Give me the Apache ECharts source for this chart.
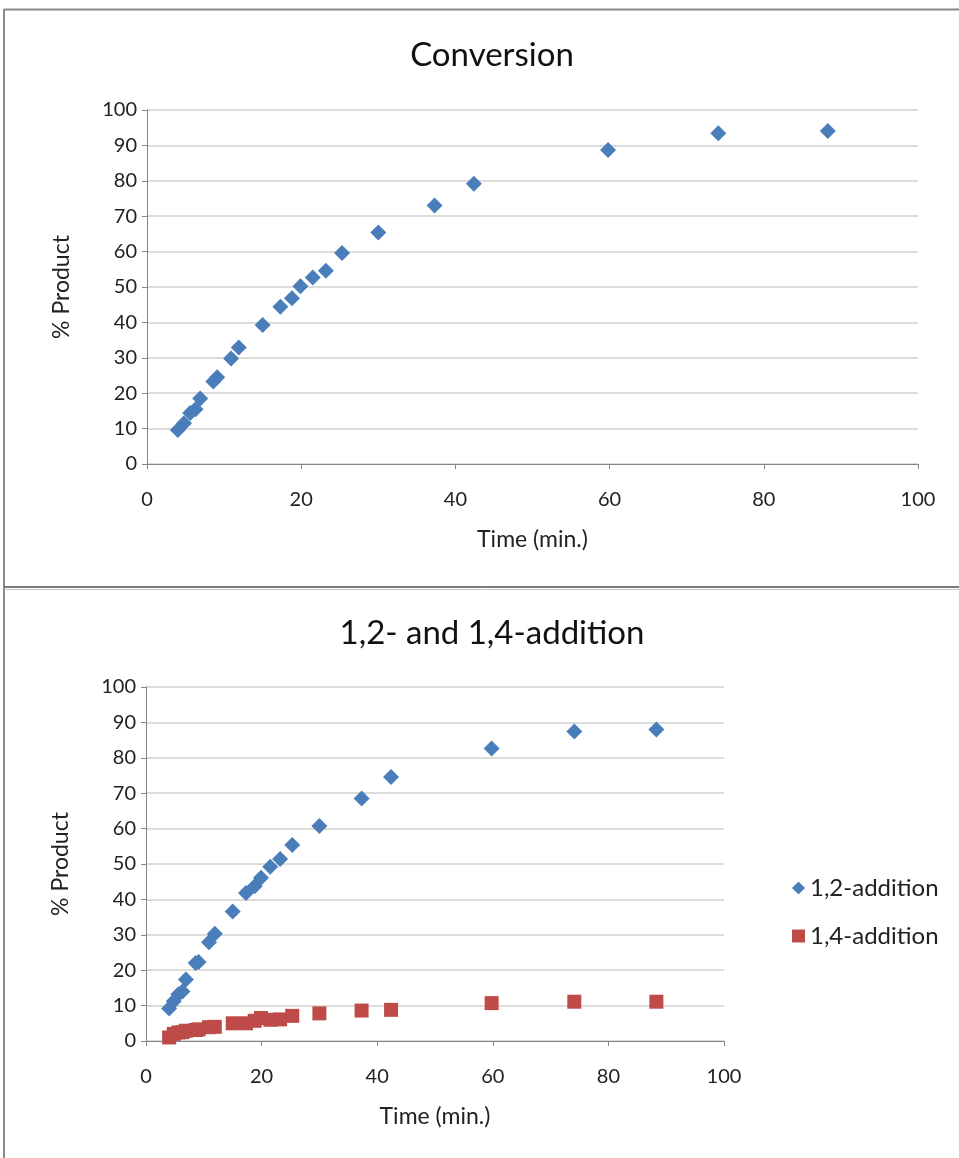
<!DOCTYPE html>
<html lang="en">
<head>
    <meta charset="UTF-8">
    <title>Conversion / 1,2- and 1,4-addition</title>
    <script src="https://cdn.jsdelivr.net/npm/echarts@6/dist/echarts.min.js"></script>
    <style>
        html, body { margin: 0; padding: 0; background: #fff; }
        #main { width: 959px; height: 1158px; }
    </style>
</head>
<body>
    <div id="main"></div>
    <script>
        // 时间 (min.) - both charts share the same sampling times
        var times = [4.0, 4.8, 5.6, 6.3, 6.9, 8.6, 9.1, 10.9, 11.9, 15.0, 17.3, 18.8, 19.9, 21.5, 23.2, 25.3, 30.0, 37.3, 42.4, 59.8, 74.1, 88.3];
        // top chart: total conversion
        var conversion = [9.6, 11.5, 14.4, 15.5, 18.5, 23.3, 24.5, 29.8, 32.9, 39.3, 44.4, 46.8, 50.2, 52.7, 54.6, 59.6, 65.4, 73.0, 79.2, 88.7, 93.4, 94.1];
        // bottom chart
        var add12 = [9.2, 11.2, 13.2, 14.0, 17.4, 22.0, 22.3, 27.9, 30.3, 36.6, 41.8, 43.7, 46.1, 49.2, 51.4, 55.4, 60.7, 68.5, 74.6, 82.6, 87.4, 88.0];
        var add14 = [1.0, 2.0, 2.4, 2.5, 2.9, 3.1, 3.3, 3.9, 4.0, 5.0, 5.0, 5.7, 6.5, 6.0, 6.1, 7.1, 7.8, 8.6, 8.8, 10.7, 11.1, 11.1];

        var titles = ['Conversion', '1,2- and 1,4-addition'];
        var seriesNames = ['1,2-addition', '1,4-addition'];
        var xTitle = 'Time (min.)';
        var yTitle = '% Product';

        var FONT = 'Lato, "Open Sans", sans-serif';
        var BLUE = '#4a7ebb';
        var RED = '#be4b48';
        var AXIS = '#868686';
        var GRID = '#d0d0d0';

        function pairs(xs, ys) {
            return xs.map(function (x, i) { return [x, ys[i]]; });
        }

        function xAxisOf(idx) {
            return {
                gridIndex: idx, type: 'value', min: 0, max: 100, interval: 20,
                name: xTitle, nameLocation: 'middle', nameGap: 64,
                nameTextStyle: { fontFamily: FONT, fontSize: 23, color: '#222' },
                axisLine: { show: true, onZero: false, lineStyle: { color: AXIS, width: 1 } },
                axisTick: { show: true, length: 5, lineStyle: { color: AXIS } },
                axisLabel: { margin: 26, fontFamily: FONT, fontSize: 20, color: '#222' },
                splitLine: { show: false }
            };
        }

        function yAxisOf(idx) {
            return {
                gridIndex: idx, type: 'value', min: 0, max: 100, interval: 10,
                name: yTitle, nameLocation: 'middle', nameGap: 74, nameRotate: 90,
                nameTextStyle: { fontFamily: FONT, fontSize: 23, color: '#222' },
                axisLine: { show: true, lineStyle: { color: AXIS, width: 1 } },
                axisTick: { show: true, length: 5, lineStyle: { color: AXIS } },
                axisLabel: { margin: 10, fontFamily: FONT, fontSize: 20, color: '#222' },
                splitLine: { show: true, lineStyle: { color: GRID, width: 1.5 } }
            };
        }

        var option = {
            backgroundColor: '#fff',
            animation: false,
            title: [
                { text: titles[0], left: 487, top: 34, textAlign: 'center',
                  textStyle: { fontFamily: FONT, fontSize: 33, fontWeight: 'normal', color: '#111' } },
                { text: titles[1], left: 487, top: 612, textAlign: 'center',
                  textStyle: { fontFamily: FONT, fontSize: 33, fontWeight: 'normal', color: '#111' } }
            ],
            legend: {
                data: [
                    { name: seriesNames[0], icon: 'diamond' },
                    { name: seriesNames[1], icon: 'rect' }
                ],
                orient: 'vertical', left: 787, top: 871, itemGap: 24,
                itemWidth: 13, itemHeight: 13,
                textStyle: { fontFamily: FONT, fontSize: 24, color: '#222' }
            },
            grid: [
                { left: 147, top: 110, width: 771, height: 354 },
                { left: 146, top: 687, width: 578, height: 354 }
            ],
            xAxis: [xAxisOf(0), xAxisOf(1)],
            yAxis: [yAxisOf(0), yAxisOf(1)],
            series: [
                {
                    name: 'Conversion', type: 'scatter', xAxisIndex: 0, yAxisIndex: 0,
                    symbol: 'diamond', symbolSize: 16,
                    itemStyle: { color: BLUE, opacity: 1 },
                    data: pairs(times, conversion)
                },
                {
                    name: seriesNames[0], type: 'scatter', xAxisIndex: 1, yAxisIndex: 1,
                    symbol: 'diamond', symbolSize: 16,
                    itemStyle: { color: BLUE, opacity: 1 },
                    data: pairs(times, add12)
                },
                {
                    name: seriesNames[1], type: 'scatter', xAxisIndex: 1, yAxisIndex: 1,
                    symbol: 'rect', symbolSize: 14,
                    itemStyle: { color: RED, opacity: 1 },
                    data: pairs(times, add14)
                }
            ],
            // chart frame borders
            graphic: [
                { type: 'line', shape: { x1: 4, y1: 9.5, x2: 959, y2: 9.5 }, style: { stroke: '#8a8a8a', lineWidth: 2 } },
                { type: 'line', shape: { x1: 4, y1: 9, x2: 4, y2: 1158 }, style: { stroke: '#8a8a8a', lineWidth: 2 } },
                { type: 'line', shape: { x1: 4, y1: 587, x2: 959, y2: 587 }, style: { stroke: '#7a7a7a', lineWidth: 2 } },
                { type: 'line', shape: { x1: 4, y1: 589.5, x2: 959, y2: 589.5 }, style: { stroke: '#c4c4c4', lineWidth: 1 } }
            ]
        };

        var myChart = echarts.init(document.getElementById('main'));
        myChart.setOption(option);
    </script>
</body>
</html>
